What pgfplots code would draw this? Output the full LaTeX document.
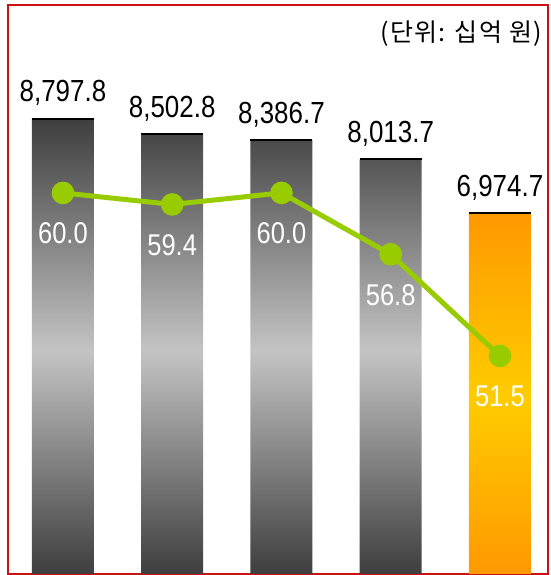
\documentclass[border=0pt]{standalone}
\usepackage{pgfplots}
\pgfplotsset{compat=1.18}
\usepackage{fontspec}
\setmainfont[FakeStretch=0.85]{Liberation Sans}
\newfontfamily\kr[LetterSpace=5]{Noto Sans CJK KR}
\definecolor{barD}{HTML}{3E3E3E}
\definecolor{barL}{HTML}{C4C4C4}
\definecolor{orD}{HTML}{FF9900}
\definecolor{orL}{HTML}{FFCC00}
\definecolor{lineGreen}{HTML}{99CC00}
\definecolor{frameRed}{HTML}{CC1111}
\pgfdeclareverticalshading{grayshade}{100bp}{color(0bp)=(barD); color(25bp)=(barD); color(49.5bp)=(barL); color(75bp)=(barD); color(100bp)=(barD)}
\pgfdeclareverticalshading{orangeshade}{100bp}{color(0bp)=(orD); color(25bp)=(orD); color(49.5bp)=(orL); color(75bp)=(orD); color(100bp)=(orD)}
\begin{document}
\begin{tikzpicture}
\begin{axis}[
  at={(0,0)}, anchor=south west,
  width=540pt, height=569pt, scale only axis,
  xmin=-0.503, xmax=4.44, ymin=0, ymax=11000,
  xtick=\empty, ytick=\empty,
  axis line style={draw=frameRed, line width=1.5pt},
  clip=false,
]
\addplot[ybar, bar width=62pt, bar shift=0pt, draw=none, shade, shading=grayshade,
  nodes near coords={\pgfmathprintnumber[fixed,fixed zerofill,precision=1,1000 sep={,},assume math mode=true]{\pgfplotspointmeta}},
  every node near coord/.append style={black, anchor=base, yshift=17pt, inner sep=0pt, font=\fontsize{30.5}{32}\selectfont}]
  coordinates {(0,8797.8) (1,8502.8) (2,8386.7) (3,8013.7)};
\addplot[ybar, bar width=62pt, bar shift=0pt, draw=none, shade, shading=orangeshade,
  nodes near coords={\pgfmathprintnumber[fixed,fixed zerofill,precision=1,1000 sep={,},assume math mode=true]{\pgfplotspointmeta}},
  every node near coord/.append style={black, anchor=base, yshift=17pt, inner sep=0pt, font=\fontsize{30.5}{32}\selectfont}]
  coordinates {(4,6974.7)};
\addplot[only marks, mark=-, mark size=31pt, mark options={line width=2pt, draw=black}]
  coordinates {(0,8797.8) (1,8502.8) (2,8386.7) (3,8013.7) (4,6974.7)};
\node[anchor=north east, inner sep=0pt, font=\kr\fontsize{25}{27}\selectfont] at (rel axis cs:1,1) [xshift=-6pt, yshift=-16pt] {(단위: 십억 원)};
\end{axis}
\begin{axis}[
  at={(0,0)}, anchor=south west,
  width=540pt, height=569pt, scale only axis,
  xmin=-0.503, xmax=4.44, ymin=40.13, ymax=69.8,
  hide axis, clip=false,
]
\addplot[color=lineGreen, line width=5pt, mark=*, mark size=8.8pt, mark options={fill=lineGreen, draw=none},
  nodes near coords={\pgfmathprintnumber[fixed,fixed zerofill,precision=1,assume math mode=true]{\pgfplotspointmeta}},
  every node near coord/.append style={white, anchor=base, yshift=-51pt, inner sep=0pt, font=\fontsize{30}{32}\selectfont}]
  coordinates {(0,60.0) (1,59.4) (2,60.0) (3,56.8) (4,51.5)};
\end{axis}
\path (-8pt,-1pt) rectangle (542pt,574pt);
\end{tikzpicture}
\end{document}
